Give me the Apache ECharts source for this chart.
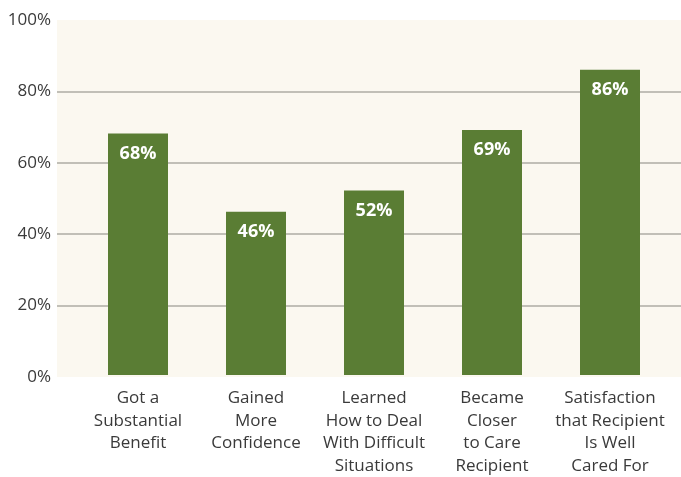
<!DOCTYPE html>
<html>
<head>
<meta charset="utf-8">
<script src="https://cdn.jsdelivr.net/npm/echarts@6/dist/echarts.min.js"></script>
<style>
  html, body { margin: 0; padding: 0; background: #fff; }
  #chart { width: 681px; height: 477px; }
</style>
</head>
<body>
<div id="chart"></div>
<script>
// categories and values
const categories = [
  'Got a\nSubstantial\nBenefit',
  'Gained\nMore\nConfidence',
  'Learned\nHow to Deal\nWith Difficult\nSituations',
  'Became\nCloser\nto Care\nRecipient',
  'Satisfaction\nthat Recipient\nIs Well\nCared For'
]
const values = [68, 46, 52, 69, 86]
const yTicks = [0, 20, 40, 60, 80, 100]

const font = '"Open Sans", "Noto Sans", sans-serif'
const myChart = echarts.init(document.getElementById('chart'))

const option = {
  animation: false,
  grid: [
    // background + gridlines
    { left: 57, right: 0, top: 20, bottom: 100, show: true, backgroundColor: '#fbf8f0', borderWidth: 0 },
    // bars
    { left: 79, right: 12, top: 20, bottom: 100 }
  ],
  xAxis: [
    { gridIndex: 0, type: 'value', show: false, min: 0, max: 1 },
    {
      gridIndex: 1,
      type: 'category',
      data: categories,
      axisLine: { show: false },
      axisTick: { show: false },
      axisLabel: {
        interval: 0,
        margin: 12,
        color: '#3a3a3a',
        fontFamily: font,
        fontSize: 17,
        lineHeight: 22.5,
        verticalAlign: 'top'
      }
    }
  ],
  yAxis: [
    {
      gridIndex: 0,
      type: 'value',
      min: 0,
      max: 100,
      interval: 20,
      axisLine: { show: false },
      axisTick: { show: false },
      splitLine: {
        show: true,
        showMinLine: false,
        showMaxLine: false,
        lineStyle: { color: '#aeaca4', width: 1.5 }
      },
      axisLabel: {
        margin: 6,
        color: '#3a3a3a',
        fontFamily: font,
        fontSize: 17,
        formatter: function (v) { return yTicks.indexOf(v) >= 0 ? v + '%' : '' }
      }
    },
    { gridIndex: 1, type: 'value', min: 0, max: 100, show: false }
  ],
  series: [
    {
      type: 'bar',
      xAxisIndex: 1,
      yAxisIndex: 1,
      data: values,
      barWidth: 60,
      itemStyle: { color: '#5a7d34' },
      label: {
        show: true,
        position: 'insideTop',
        distance: 11,
        color: '#fff',
        fontFamily: font,
        fontWeight: 'bold',
        fontSize: 18,
        formatter: '{c}%'
      }
    }
  ]
}
myChart.setOption(option)
</script>
</body>
</html>
